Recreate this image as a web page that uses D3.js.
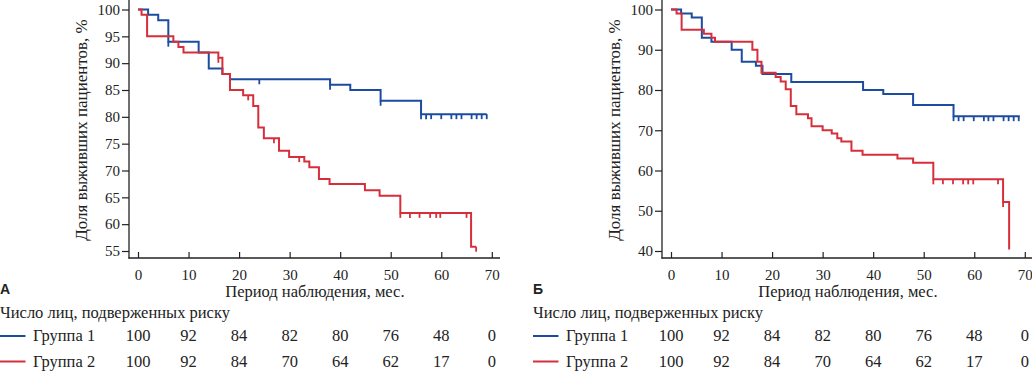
<!DOCTYPE html>
<html>
<head>
<meta charset="utf-8">
<script src="https://cdn.jsdelivr.net/npm/d3@7"></script>
<style>
  body { margin: 0; background: #fff; }
  svg { display: block; }
</style>
</head>
<body>
<div id="container"></div>
<script>
let w = 1032;
let h = 372;

// time axis + risk table
let timeTicks = [0, 10, 20, 30, 40, 50, 60, 70];
let groupNames = ["Группа 1", "Группа 2"];
let riskGroup1 = [100, 92, 84, 82, 80, 76, 48, 0];
let riskGroup2 = [100, 92, 84, 70, 64, 62, 17, 0];

// panel A  [month, % alive]
let aTicks = [55, 60, 65, 70, 75, 80, 85, 90, 95, 100];
let aGroup1 = [[0,100],[2,99],[4,98],[6,94],[12,92],[14,89],[16.7,88],[18.2,87],[38,86],[42,85],[48,83],[56,80.5],[69,80.5]];
let aGroup1Censor = [6, 24, 38, 48, 56, 57, 58, 60, 62, 63, 64, 66, 67, 68, 69];
let aGroup2 = [[0,100],[0.7,99],[1.8,95],[7,94],[8,93],[9,92],[15.9,91],[16.7,88],[18.2,85],[20.8,84],[22.8,82],[23.8,78],[24.9,76],
  [27.9,73.7],[29.9,72.5],[32.9,71.7],[33.9,70.6],[35.8,68.4],[37.9,67.5],[44.9,66.3],[47.8,65.3],[51.9,62.1],[65.9,55.8],[66.9,55.8]];
let aGroup2Censor = [15.9, 21.8, 26.9, 31.9, 51.9, 53.8, 55.7, 57.8, 59, 59.8, 65, 66.9];

// panel Б
let bTicks = [40, 50, 60, 70, 80, 90, 100];
let bGroup1 = [[0,100],[2,99],[4.1,98],[6.1,93],[8,92],[12,90],[14,87],[16.8,86],[18.1,84],[23.8,82],[38,80],[42,79],[47.9,76.3],[55.9,73.5],[69,73.5]];
let bGroup1Censor = [55.9, 56.9, 57.9, 59.9, 61.9, 62.8, 63.8, 65.8, 66.8, 67.8, 68.8];
let bGroup2 = [[0,100],[1.1,99],[2.1,95],[6.5,94],[8,93],[8.7,92],[16.1,90],[17.1,87],[17.9,84.3],[20.7,83.2],[21.7,82.1],[22.7,80.2],
  [23.7,76],[24.8,74],[27.1,73],[27.8,71],[30,70],[31.8,69.2],[32.9,68],[33.7,67.2],[35.7,64.9],[37.9,63.9],[44.8,63],[47.9,61.9],
  [51.9,57.8],[65.7,52.2],[66.9,40.4]];
let bGroup2Censor = [51.9, 53.8, 55.8, 57.8, 58.8, 59.8, 64.7, 65.7];

let colors = ["#1c4ca0", "#d62f3c"];
let serif = "'Liberation Serif', 'DejaVu Serif', serif";

let viz = d3.select("#container")
  .append("svg")
    .attr("width", w)
    .attr("height", h)
    .style("background-color", "white")
;

function valueAt(steps, t){
  let v = steps[0][1];
  steps.forEach(d => { if (d[0] <= t) v = d[1]; });
  return v;
}

function drawPanel(offsetX, letter, yDomain, yTicks, curves){
  let g = viz.append("g").attr("transform", "translate(" + offsetX + ",0)");

  let xScale = d3.scaleLinear().domain([0, 70]).range([138, 491.8]);
  let yScale = d3.scaleLinear().domain(yDomain).range([251, 9.5]);

  // axes
  let yAxis = g.append("g")
    .attr("transform", "translate(129,0)")
    .call(d3.axisLeft(yScale).tickValues(yTicks).tickSize(7).tickPadding(2));
  let xAxis = g.append("g")
    .attr("transform", "translate(0,258)")
    .call(d3.axisBottom(xScale).tickValues(timeTicks).tickSize(-6).tickPadding(11));
  [yAxis, xAxis].forEach(a => {
    a.select(".domain").remove();
    a.selectAll("line").attr("stroke", "#222").attr("stroke-width", 1.2);
    a.selectAll("text").style("font-family", serif).style("font-size", "15px").attr("fill", "#222");
  });
  g.append("line").attr("x1", 129).attr("x2", 129).attr("y1", 0).attr("y2", 258.6)
    .attr("stroke", "#222").attr("stroke-width", 1.3);
  g.append("line").attr("x1", 128.4).attr("x2", 500).attr("y1", 258).attr("y2", 258)
    .attr("stroke", "#222").attr("stroke-width", 1.3);

  // curves
  let line = d3.line()
    .x(d => xScale(d[0]))
    .y(d => yScale(d[1]))
    .curve(d3.curveStepAfter);

  curves.forEach((c, i) => {
    g.append("path")
      .attr("d", line(c.steps))
      .attr("fill", "none")
      .attr("stroke", colors[i])
      .attr("stroke-width", 2);
    g.selectAll(".cens" + i).data(c.censor).enter()
      .append("line")
        .attr("class", "cens" + i)
        .attr("x1", d => xScale(d)).attr("x2", d => xScale(d))
        .attr("y1", d => yScale(valueAt(c.steps, d)))
        .attr("y2", d => yScale(valueAt(c.steps, d)) + 5)
        .attr("stroke", colors[i])
        .attr("stroke-width", 1.8);
  });

  // titles
  g.append("text")
    .attr("transform", "translate(87,130) rotate(-90)")
    .attr("text-anchor", "middle")
    .style("font-family", serif).style("font-size", "17px").attr("fill", "#222")
    .text("Доля выживших пациентов, %");
  g.append("text")
    .attr("x", xScale(35)).attr("y", 297)
    .attr("text-anchor", "middle")
    .style("font-family", serif).style("font-size", "16.5px").attr("fill", "#222")
    .text("Период наблюдения, мес.");
  g.append("text")
    .attr("x", 0).attr("y", 294)
    .style("font-family", "'Liberation Sans', Arial, sans-serif").style("font-size", "14px")
    .style("font-weight", "bold").attr("fill", "#222")
    .text(letter);
  g.append("text")
    .attr("x", 0).attr("y", 318)
    .style("font-family", serif).style("font-size", "16.5px").attr("fill", "#222")
    .text("Число лиц, подверженных риску");

  // risk table
  [riskGroup1, riskGroup2].forEach((row, i) => {
    let rowY = 341 + i * 25.5;
    g.append("line")
      .attr("x1", 0).attr("x2", 25.5).attr("y1", rowY - 5).attr("y2", rowY - 5)
      .attr("stroke", colors[i]).attr("stroke-width", 2);
    g.append("text")
      .attr("x", 33).attr("y", rowY)
      .style("font-family", serif).style("font-size", "16.5px").attr("fill", "#222")
      .text(groupNames[i]);
    g.selectAll(".risk" + i).data(row).enter()
      .append("text")
        .attr("class", "risk" + i)
        .attr("x", (d, j) => xScale(timeTicks[j]))
        .attr("y", rowY)
        .attr("text-anchor", "middle")
        .style("font-family", serif).style("font-size", "16.5px").attr("fill", "#222")
        .text(d => d);
  });
}

drawPanel(0, "А", [55, 100], aTicks, [
  {steps: aGroup1, censor: aGroup1Censor},
  {steps: aGroup2, censor: aGroup2Censor}
]);
drawPanel(533, "Б", [40, 100], bTicks, [
  {steps: bGroup1, censor: bGroup1Censor},
  {steps: bGroup2, censor: bGroup2Censor}
]);
</script>
</body>
</html>
